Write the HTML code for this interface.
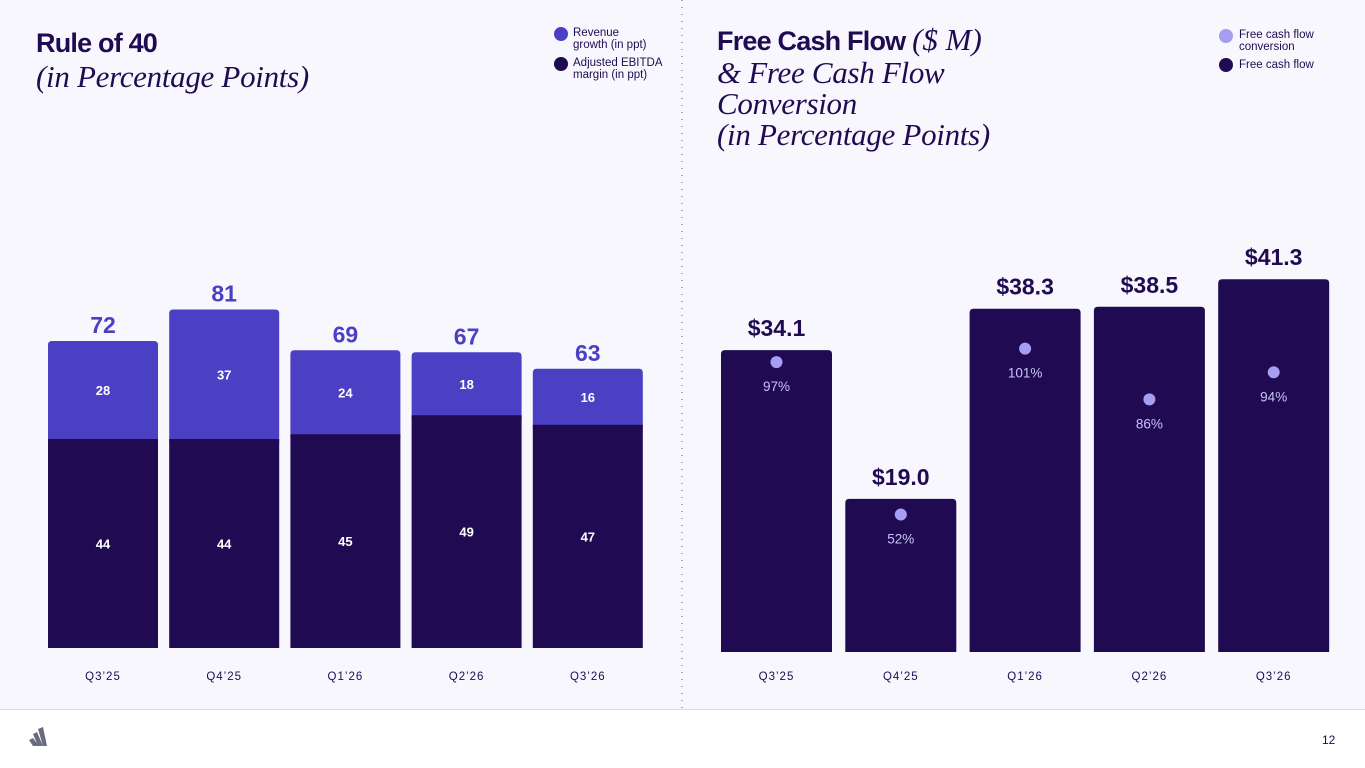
<!DOCTYPE html>
<html><head><meta charset="utf-8"><style>
body{margin:0;width:1365px;height:768px;overflow:hidden;background:#fff;font-family:"Liberation Sans",sans-serif;}
#top{position:absolute;left:0;top:0;width:1365px;height:709px;background:#f7f7fd;border-bottom:1px solid #dcdce6;}
.t{position:absolute;color:#200b52;}
.h{font-weight:bold;font-size:27px;letter-spacing:-0.8px;}
.i{font-family:"Liberation Serif",serif;font-style:italic;font-size:31px;line-height:31px;}
.lg{position:absolute;font-size:11.5px;line-height:12px;color:#200b52;}
.dot{position:absolute;width:14px;height:14px;border-radius:50%;}
</style></head><body>
<div id="top"></div>
<div class="t h" style="left:36px;top:28px">Rule of 40</div>
<div class="t i" style="left:36px;top:61px;letter-spacing:-0.3px">(in Percentage Points)</div>
<div class="dot" style="left:554px;top:27px;background:#4b3fc4"></div>
<div class="lg" style="left:573px;top:27px">Revenue<br>growth (in ppt)</div>
<div class="dot" style="left:554px;top:57px;background:#200b52"></div>
<div class="lg" style="left:573px;top:57px">Adjusted EBITDA<br>margin (in ppt)</div>
<div class="t h" style="left:717px;top:24px">Free Cash Flow <span class="i" style="font-weight:normal;letter-spacing:0">($ M)</span></div>
<div class="t i" style="left:717px;top:57px;letter-spacing:-0.3px">&amp; Free Cash Flow<br>Conversion<br>(in Percentage Points)</div>
<div class="dot" style="left:1219px;top:29px;background:#a59ef2"></div>
<div class="lg" style="left:1239px;top:29px">Free cash flow<br>conversion</div>
<div class="dot" style="left:1219px;top:58px;background:#200b52"></div>
<div class="lg" style="left:1239px;top:59px">Free cash flow</div>
<div style="position:absolute;left:1322px;top:733px;font-size:12px;color:#200b52">12</div>
<svg id="s" width="1365" height="768" style="position:absolute;left:0;top:0">
<line x1="682" y1="0" x2="682" y2="709" stroke="#555" stroke-width="1" stroke-dasharray="1,6"/>
<g fill="#6b6b80"><path d="M29 740 L33 738 L39 746 L33 746Z"/><path d="M33 734 L37 732 L43 746 L38 746Z"/><path d="M38 729 L43 727 L47 746 L43 746Z"/></g>
</svg>
<script>
const cats=["Q3’25","Q4’25","Q1’26","Q2’26","Q3’26"];
const ebitda=[44,44,45,49,47];
const revenue=[28,37,24,18,16];
const totals=[72,81,69,67,63];
const fcf=[34.1,19.0,38.3,38.5,41.3];
const fcfLabels=["$34.1","$19.0","$38.3","$38.5","$41.3"];
const conv=[97,52,101,86,94];
const NS="http://www.w3.org/2000/svg";
const svg=document.getElementById('s');
function mk(t,a,txt){const e=document.createElementNS(NS,t);for(const k in a)e.setAttribute(k,a[k]);if(txt!==undefined)e.textContent=txt;svg.appendChild(e);return e;}
function topRect(x,y,w,h){const r=4;return `M${x} ${y+h}V${y+r}Q${x} ${y} ${x+r} ${y}H${x+w-r}Q${x+w} ${y} ${x+w} ${y+r}V${y+h}Z`;}
// left chart
const lx=i=>48+i*121.2, lw=110, lb=648, hE=v=>v*4.75, hR=v=>v*3.5;
cats.forEach((c,i)=>{
 const x=lx(i),yE=lb-hE(ebitda[i]),yT=yE-hR(revenue[i]);
 let e=mk('path',{d:topRect(x,yT,lw,yE-yT+4),fill:'#4b3fc4'});
 
 e=mk('rect',{x:x,y:yE,width:lw,height:lb-yE,fill:'#200b52'});
 
 e=mk('text',{x:x+lw/2,y:(yE+lb)/2+5,'text-anchor':'middle',fill:'#fff','font-size':13,'font-weight':'bold'},ebitda[i]);
 
 e=mk('text',{x:x+lw/2,y:(yE+yT)/2+5,'text-anchor':'middle',fill:'#fff','font-size':13,'font-weight':'bold'},revenue[i]);
 
 e=mk('text',{x:x+lw/2,y:yT-8,'text-anchor':'middle',fill:'#4b3fc4','font-size':23,'font-weight':'bold'},totals[i]);
 
 e=mk('text',{x:x+lw/2,y:680,'text-anchor':'middle',fill:'#200b52','font-size':11.5,'letter-spacing':1},c);
 
});
// right chart
const rx=i=>721+i*124.3, rw=111, rb=652, ry=v=>686-9.85*v, cy=p=>690.5-3.385*p;
cats.forEach((c,i)=>{
 const x=rx(i),y=ry(fcf[i]);
 let e=mk('path',{d:topRect(x,y,rw,rb-y),fill:'#200b52'});
 
 e=mk('text',{x:x+rw/2,y:y-14,'text-anchor':'middle',fill:'#200b52','font-size':23,'font-weight':'bold'},fcfLabels[i]);
 
 const py=cy(conv[i]);
 e=mk('circle',{cx:x+rw/2,cy:py,r:6,fill:'#a59ef2'});
 
 e=mk('text',{x:x+rw/2,y:py+29,'text-anchor':'middle',fill:'#c9c4f7','font-size':13.5},conv[i]+'%');
 
 e=mk('text',{x:x+rw/2,y:680,'text-anchor':'middle',fill:'#200b52','font-size':11.5,'letter-spacing':1},c);
 
});
</script>
</body></html>
